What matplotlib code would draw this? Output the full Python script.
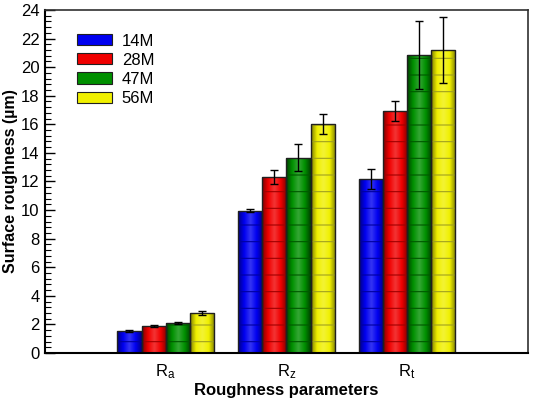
import numpy as np
import matplotlib
matplotlib.use("Agg")
import matplotlib.pyplot as plt
from matplotlib.colors import LinearSegmentedColormap, to_rgb
from matplotlib.ticker import MultipleLocator

plt.rcParams["font.family"] = ["Liberation Sans", "DejaVu Sans"]
plt.rcParams["mathtext.fontset"] = "custom"
plt.rcParams["mathtext.rm"] = "Liberation Sans"
plt.rcParams["mathtext.it"] = "Liberation Sans"
plt.rcParams["hatch.linewidth"] = 0.8

# data
params = ["R$_\\mathrm{a}$", "R$_\\mathrm{z}$", "R$_\\mathrm{t}$"]
series = ["14M", "28M", "47M", "56M"]
vals = {
    "14M": [1.55, 9.95, 12.15],
    "28M": [1.90, 12.30, 16.90],
    "47M": [2.10, 13.65, 20.85],
    "56M": [2.80, 16.00, 21.20],
}
errs = {
    "14M": [0.06, 0.12, 0.70],
    "28M": [0.06, 0.48, 0.70],
    "47M": [0.10, 0.95, 2.40],
    "56M": [0.15, 0.70, 2.30],
}
base = {"14M": "#0000f0", "28M": "#f00000", "47M": "#009000", "56M": "#f0f000"}
dark = {"14M": "#000080", "28M": "#800000", "47M": "#004000", "56M": "#808000"}
line = {"14M": "#0000a0", "28M": "#a00000", "47M": "#005800", "56M": "#a0a020"}

fig = plt.figure(figsize=(5.38, 3.99), dpi=100)
ax = fig.add_axes([0.0836, 0.1153, 0.8975, 0.8597])

x = np.arange(1, len(params) + 1)
w = 0.2
grad = np.linspace(0, 1, 64)
grad = 1 - np.abs(grad - 0.5) * 2  # light in the middle
grad = grad.reshape(1, -1)

handles = []
for i, s in enumerate(series):
    xs = x + (i - 1.5) * w
    light = tuple(min(1, c * 0.8 + 0.2) for c in to_rgb(base[s]))
    cmap = LinearSegmentedColormap.from_list(s, [dark[s], base[s], light])
    bars = ax.bar(xs, vals[s], w, color=base[s], edgecolor="none", zorder=2)
    for r in bars:
        x0, y0 = r.get_x(), r.get_y()
        im = ax.imshow(grad, extent=[x0, x0 + r.get_width(), y0, y0 + r.get_height()],
                       cmap=cmap, aspect="auto", zorder=2.1, interpolation="bilinear")
        im.set_clip_path(r)
    # faint horizontal lines inside the bars
    ax.bar(xs, vals[s], w, color="none", edgecolor=line[s], hatch="-", linewidth=0, zorder=2.2)
    ax.bar(xs, vals[s], w, color="none", edgecolor="#202020", linewidth=1.0, zorder=2.3)
    ax.errorbar(xs, vals[s], yerr=errs[s], fmt="none", ecolor="black", elinewidth=1.0,
                capsize=3, capthick=1.0, zorder=3)
    handles.append(plt.Rectangle((0, 0), 1, 1, facecolor=base[s], edgecolor="#202020", linewidth=0.8))

ax.set_xlim(0, 4)
ax.set_ylim(0, 24)
ax.set_xticks(x)
ax.set_xticklabels(params, fontsize=12)
ax.tick_params(axis="x", length=0, pad=7)
ax.yaxis.set_major_locator(MultipleLocator(2))
ax.yaxis.set_minor_locator(MultipleLocator(0.4))
ax.tick_params(axis="y", which="major", direction="in", length=7, width=1, labelsize=12, pad=4)
ax.tick_params(axis="y", which="minor", direction="in", length=4, width=0.8)

for side in ["left", "bottom"]:
    ax.spines[side].set_linewidth(1.5)
for side in ["top", "right"]:
    ax.spines[side].set_linewidth(1.2)
    ax.spines[side].set_color("#303030")

ax.set_ylabel("Surface roughness (µm)", fontsize=11.5, fontweight="bold")
ax.yaxis.set_label_coords(-0.055, 0.5)
ax.set_xlabel("Roughness parameters", fontsize=12, fontweight="bold", labelpad=1)

ax.legend(handles, series, loc="upper left", bbox_to_anchor=(0.035, 0.975), frameon=False,
          fontsize=12, handlelength=2.1, handleheight=0.65, labelspacing=0.25, handletextpad=0.6)

fig.savefig("out.png", dpi=100)
